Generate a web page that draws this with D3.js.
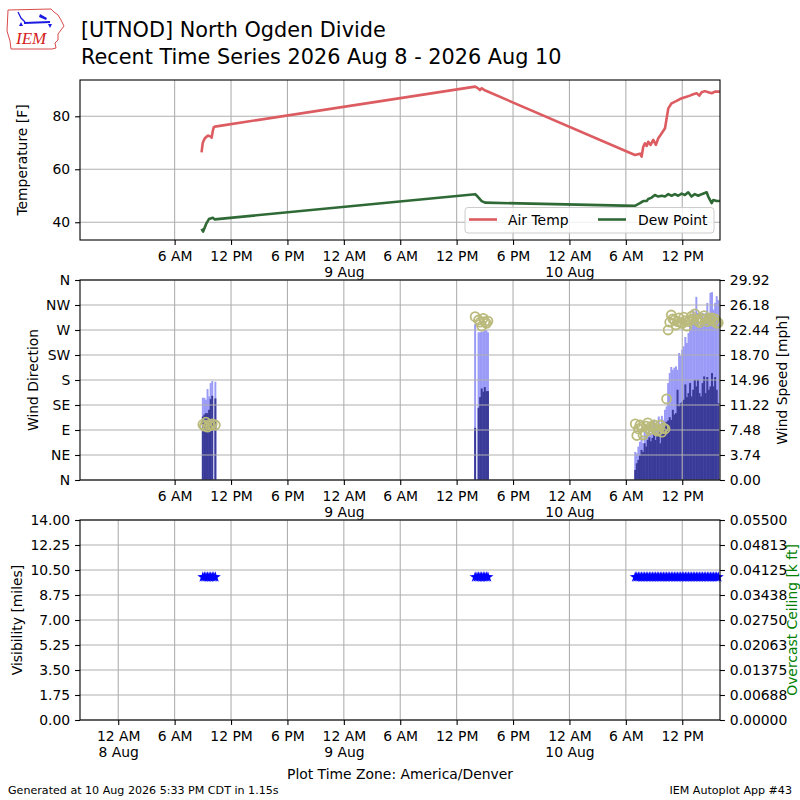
<!DOCTYPE html>
<html>
<head>
<meta charset="utf-8">
<script src="https://cdn.jsdelivr.net/npm/d3@7"></script>
<style>
body { margin: 0; background: #fff; }
svg { font-family: "DejaVu Sans", sans-serif; }
</style>
</head>
<body>
<div id="chart"></div>
<script>
// observations, local time (America/Denver), "MM-DD HH:MM"
const tempTimes = [
  "08-08 08:52","08-08 08:59","08-08 09:06","08-08 09:13","08-08 09:24","08-08 09:34","08-08 09:45","08-08 09:52","08-08 09:56","08-08 10:05","08-08 10:10","08-08 10:17",
  "08-09 13:58","08-09 14:10","08-09 14:20","08-09 14:29","08-09 14:40","08-09 14:50","08-09 14:56",
  "08-10 06:58","08-10 07:30","08-10 07:41","08-10 07:51","08-10 08:02","08-10 08:13","08-10 08:23","08-10 08:38","08-10 08:55","08-10 09:12","08-10 09:27","08-10 09:49","08-10 10:10","08-10 10:24","08-10 10:31","08-10 10:52","08-10 11:24","08-10 11:45","08-10 12:07","08-10 12:28","08-10 12:49","08-10 13:10","08-10 13:32","08-10 13:49","08-10 14:04","08-10 14:25","08-10 14:46","08-10 15:08","08-10 15:29","08-10 16:00"
];
const tempValues = [
  66.4,69.8,70.9,71.7,72.3,72.7,72.5,72.4,71.9,74.8,75.9,76.1,
  91.2,90.8,90.4,89.9,90.6,90.2,89.9,
  65.4,65.9,64.8,68.5,69.8,68.8,70.4,69.2,71.1,69.2,71.7,73.6,75.5,80.5,83.0,84.9,85.8,86.5,87.0,87.4,87.8,88.3,88.7,87.8,89.1,89.5,89.1,88.7,89.3,89.3
];

const dewTimes = [
  "08-08 08:52","08-08 09:02","08-08 09:23","08-08 09:39","08-08 10:04","08-08 10:15",
  "08-09 13:58","08-09 14:14","08-09 14:40","08-09 15:01",
  "08-10 06:58","08-10 07:30","08-10 07:51","08-10 08:13","08-10 08:23","08-10 08:45","08-10 09:05","08-10 09:27","08-10 09:49","08-10 10:10","08-10 10:31","08-10 10:52","08-10 11:13","08-10 11:34","08-10 11:56","08-10 12:17","08-10 12:38","08-10 12:59","08-10 13:20","08-10 13:42","08-10 14:04","08-10 14:36","08-10 14:46","08-10 15:08","08-10 15:18","08-10 15:40","08-10 16:00"
];
const dewValues = [
  37.5,36.5,39.6,41.2,41.7,41.1,
  50.6,49.7,48.0,47.4,
  46.2,47.2,48.0,48.0,48.8,49.3,50.3,49.7,50.0,49.7,50.6,50.0,50.6,50.0,50.8,50.3,51.3,49.7,50.6,50.0,50.6,51.3,49.7,47.2,48.4,48.0,48.0
];

const windTimes = [
  "08-08 09:00","08-08 09:10","08-08 09:20","08-08 09:30","08-08 09:40","08-08 09:50","08-08 10:00","08-08 10:10","08-08 10:20",
  "08-09 13:58","08-09 14:10","08-09 14:20","08-09 14:30","08-09 14:40","08-09 14:50","08-09 15:00","08-09 15:10","08-09 15:20",
  "08-10 07:00","08-10 07:10","08-10 07:20","08-10 07:30","08-10 07:40","08-10 07:50",
  "08-10 08:00","08-10 08:10","08-10 08:20","08-10 08:30","08-10 08:40","08-10 08:50",
  "08-10 09:00","08-10 09:10","08-10 09:20","08-10 09:30","08-10 09:40","08-10 09:50",
  "08-10 10:00","08-10 10:10","08-10 10:20","08-10 10:30","08-10 10:40","08-10 10:50",
  "08-10 11:00","08-10 11:10","08-10 11:20","08-10 11:30","08-10 11:40","08-10 11:50",
  "08-10 12:00","08-10 12:10","08-10 12:20","08-10 12:30","08-10 12:40","08-10 12:50",
  "08-10 13:00","08-10 13:10","08-10 13:20","08-10 13:30","08-10 13:40","08-10 13:50",
  "08-10 14:00","08-10 14:10","08-10 14:20","08-10 14:30","08-10 14:40","08-10 14:50",
  "08-10 15:00","08-10 15:10","08-10 15:20","08-10 15:30","08-10 15:40","08-10 15:50"
];
const windSpeed = [
  9.5,9.8,10.0,10.0,10.5,12.1,12.6,null,12.2,
  7.8,null,10.8,12.4,13.7,13.2,13.9,13.3,13.3,
  1.5,2.5,3.0,3.7,4.5,4.2,5.5,5.0,6.0,6.4,5.8,6.3,7.5,6.0,6.6,7.2,5.5,7.0,
  7.8,8.2,8.7,8.9,9.4,9.0,10.5,9.8,10.0,13.5,11.0,11.5,11.7,12.0,14.3,12.4,13.0,14.5,
  12.5,13.5,15.0,14.0,15.0,13.0,12.5,14.5,15.5,13.0,15.4,13.5,14.0,16.0,14.0,15.4,13.5,11.5
];
const windGust = [
  12.3,12.3,12.0,13.6,12.5,14.5,14.8,null,14.7,
  23.3,null,22.1,22.1,22.2,22.2,22.4,22.4,22.1,
  4.2,4.0,5.0,5.7,6.5,5.5,7.5,6.8,7.2,8.2,7.0,7.8,9.0,8.0,7.5,9.5,8.0,9.6,
  9.0,10.5,11.0,14.5,16.0,16.9,16.5,16.8,17.0,16.5,19.0,18.6,19.5,20.0,21.4,20.5,22.0,23.5,
  24.0,25.4,24.5,27.4,25.0,22.9,24.5,25.0,24.0,25.0,26.5,24.5,28.0,28.1,25.5,26.5,27.5,26.9
];
const windDir = [
  100,97,104,95,100,98,101,null,99,
  294,null,288,284,277,291,285,282,286,
  101,80,92,99,95,81,86,97,103,90,96,95,99,92,88,90,99,86,
  94,92,146,270,284,297,290,288,279,285,292,283,282,293,287,277,285,288,
  295,290,299,288,286,283,291,289,296,290,285,291,288,292,286,290,282,283
];
const visValues = [
  10,10,10,10,10,10,10,10,10,
  10,10,10,10,10,10,10,10,10,
  10,10,10,10,10,10,10,10,10,10,10,10,10,10,10,10,10,10,
  10,10,10,10,10,10,10,10,10,10,10,10,10,10,10,10,10,10,
  10,10,10,10,10,10,10,10,10,10,10,10,10,10,10,10,10,10
];

// tick labels
const tempTicks = [40, 60, 80];
const dirTicks = [0, 45, 90, 135, 180, 225, 270, 315, 360];
const dirLabels = ["N", "NE", "E", "SE", "S", "SW", "W", "NW", "N"];
const speedTicks = [0, 3.74, 7.48, 11.22, 14.96, 18.70, 22.44, 26.18, 29.92];
const visTicks = [0, 1.75, 3.5, 5.25, 7, 8.75, 10.5, 12.25, 14];
const ceilLabels = ["0.00000", "0.00688", "0.01375", "0.02063", "0.02750", "0.03438", "0.04125", "0.04813", "0.05500"];

const parseT = s => d3.utcParse("%Y-%m-%d %H:%M")("2026-" + s);

const W = 800, H = 800;
const X0 = 80, X1 = 720;
const FS = 13.9;

const svg = d3.select("#chart").append("svg")
    .attr("width", W)
    .attr("height", H);
svg.append("rect").attr("width", W).attr("height", H).attr("fill", "#fff");

const x = d3.scaleUtc()
    .domain([parseT("08-07 19:56"), parseT("08-10 16:01")])
    .range([X0, X1]);

const allTicks = d3.utcHour.every(6).range(x.domain()[0], x.domain()[1]);
const upperTicks = allTicks.filter(d => d >= parseT("08-08 06:00"));

function hourLabel(d) {
    let h = d.getUTCHours();
    if (h === 0) return "12 AM";
    if (h === 12) return "12 PM";
    return h < 12 ? h + " AM" : (h - 12) + " PM";
}

function drawGrid(g, top, bottom, yvals) {
    let grid = g.append("g").attr("stroke", "#b0b0b0").attr("stroke-width", 1.1);
    grid.selectAll("line.v").data(upperTicksFor(g)).enter().append("line")
        .attr("x1", d => x(d)).attr("x2", d => x(d))
        .attr("y1", top).attr("y2", bottom);
    grid.selectAll("line.h").data(yvals).enter().append("line")
        .attr("x1", X0).attr("x2", X1)
        .attr("y1", d => d).attr("y2", d => d);
}
function upperTicksFor(g) { return g.attr("data-ticks") === "all" ? allTicks : upperTicks; }

function timeAxis(g, yPos, ticks) {
    let ax = g.append("g")
        .attr("transform", `translate(0,${yPos})`)
        .call(d3.axisBottom(x).tickValues(ticks).tickSize(4.9).tickPadding(4.9).tickFormat(""));
    ax.select(".domain").remove();
    ax.selectAll(".tick line").attr("stroke", "#000").attr("stroke-width", 1.1);
    ax.selectAll(".tick").each(function(d) {
        let t = d3.select(this).append("text")
            .attr("y", 20.5)
            .attr("text-anchor", "middle")
            .attr("font-size", FS)
            .attr("fill", "#000")
            .attr("font-family", "DejaVu Sans");
        t.append("tspan").attr("x", 0).text(hourLabel(d));
        if (d.getUTCHours() === 0) {
            t.append("tspan").attr("x", 0).attr("dy", 16.3).text(d.getUTCDate() + " Aug");
        }
    });
}

function valueAxis(g, scale, xPos, side, ticks, fmt) {
    let axisFn = side === "left" ? d3.axisLeft(scale) : d3.axisRight(scale);
    let ax = g.append("g")
        .attr("transform", `translate(${xPos},0)`)
        .call(axisFn.tickValues(ticks).tickSize(4.9).tickPadding(4.9).tickFormat(fmt));
    ax.select(".domain").remove();
    ax.selectAll(".tick line").attr("stroke", "#000").attr("stroke-width", 1.1);
    ax.selectAll(".tick text")
        .attr("font-size", FS)
        .attr("fill", "#000")
        .attr("font-family", "DejaVu Sans");
}

function frame(g, top, bottom) {
    g.append("rect")
        .attr("x", X0).attr("y", top)
        .attr("width", X1 - X0).attr("height", bottom - top)
        .attr("fill", "none").attr("stroke", "#000").attr("stroke-width", 1.1);
}

function yLabel(g, text, xc, yc, color) {
    g.append("text")
        .attr("transform", `translate(${xc},${yc}) rotate(-90)`)
        .attr("text-anchor", "middle")
        .attr("dy", "0.35em")
        .attr("font-size", FS)
        .attr("fill", color || "#000")
        .text(text);
}

// ---------- title & logo ----------
const logo = svg.append("g");
logo.append("path")
    .attr("d", "M8,10 L51,9 L54,12 L58,15 L61,20 L64,26 L61,30 L58,34 L58,40 L55,43 L56,48 L52,49 L11,49 L10,41 L7,31 Z")
    .attr("fill", "none").attr("stroke", "#d84a4a").attr("stroke-width", 1);
logo.append("text")
    .attr("x", 16).attr("y", 44)
    .attr("font-family", "Liberation Serif").attr("font-style", "italic")
    .attr("font-size", 17).attr("fill", "#d62020")
    .text("IEM");
logo.append("path").attr("d", "M24,23 L50,22").attr("stroke", "#1a1ae0").attr("stroke-width", 2.2).attr("fill", "none");
logo.append("path").attr("d", "M40,14 L47,18 L46,20 L39,17 Z").attr("fill", "#1a1ae0");
logo.append("path").attr("d", "M18,12 L21,18 L25,22").attr("stroke", "#1a1ae0").attr("stroke-width", 1.3).attr("fill", "none");
logo.append("path").attr("d", "M19,26 L21,22 L23,26 Z M48,24 L50,28 L52,24 Z").attr("fill", "#1a1ae0");

svg.append("text").attr("x", 81).attr("y", 37).attr("font-size", 20.8).attr("fill", "#000")
    .text("[UTNOD] North Ogden Divide");
svg.append("text").attr("x", 81).attr("y", 63.5).attr("font-size", 20.8).attr("fill", "#000")
    .text("Recent Time Series 2026 Aug 8 - 2026 Aug 10");

// ---------- temperature panel ----------
const yT = d3.scaleLinear().domain([33.3, 93.7]).range([240, 80]);
const gT = svg.append("g");
drawGrid(gT, 80, 240, tempTicks.map(yT));

const tempData = tempTimes.map((t, i) => ({t: parseT(t), v: tempValues[i]}));
const dewData = dewTimes.map((t, i) => ({t: parseT(t), v: dewValues[i]}));
const line = d3.line().x(d => x(d.t)).y(d => yT(d.v));

gT.append("path").datum(tempData).attr("d", line)
    .attr("fill", "none").attr("stroke", "#dc5c61").attr("stroke-width", 2.6).attr("stroke-linejoin", "round");
gT.append("path").datum(dewData).attr("d", line)
    .attr("fill", "none").attr("stroke", "#2f6a36").attr("stroke-width", 2.6).attr("stroke-linejoin", "round");

frame(gT, 80, 240);
valueAxis(gT, yT, X0, "left", tempTicks, d3.format("d"));
timeAxis(gT, 240, upperTicks);
yLabel(gT, "Temperature [F]", 22, 160);

// legend
const leg = gT.append("g");
leg.append("rect").attr("x", 465).attr("y", 207.5).attr("width", 249).attr("height", 25.5).attr("rx", 3)
    .attr("fill", "#fff").attr("fill-opacity", 0.8).attr("stroke", "#cccccc").attr("stroke-width", 1);
leg.append("line").attr("x1", 469).attr("x2", 497).attr("y1", 219.5).attr("y2", 219.5)
    .attr("stroke", "#dc5c61").attr("stroke-width", 2.6);
leg.append("text").attr("x", 508).attr("y", 224.5).attr("font-size", FS).text("Air Temp");
leg.append("line").attr("x1", 598).attr("x2", 626).attr("y1", 219.5).attr("y2", 219.5)
    .attr("stroke", "#2f6a36").attr("stroke-width", 2.6);
leg.append("text").attr("x", 638).attr("y", 224.5).attr("font-size", FS).text("Dew Point");

// ---------- wind panel ----------
const yDir = d3.scaleLinear().domain([0, 360]).range([480, 280]);
const ySpd = d3.scaleLinear().domain([0, 29.92]).range([480, 280]);
const gW = svg.append("g");

const windData = windTimes.map((t, i) => ({
    t: parseT(t), s: windSpeed[i], g: windGust[i], d: windDir[i]
}));
// slight overlap so neighbouring bars read as one block
const barW = x(parseT("08-08 00:10")) - x(parseT("08-08 00:00")) + 0.4;

gW.selectAll("rect.gust").data(windData.filter(d => d.g !== null)).enter().append("rect")
    .attr("x", d => x(d.t) - barW / 2).attr("width", barW)
    .attr("y", d => ySpd(d.g)).attr("height", d => ySpd(0) - ySpd(d.g))
    .attr("fill", "#9a9af7");
gW.selectAll("rect.sknt").data(windData.filter(d => d.s !== null)).enter().append("rect")
    .attr("x", d => x(d.t) - barW / 2).attr("width", barW)
    .attr("y", d => ySpd(d.s)).attr("height", d => ySpd(0) - ySpd(d.s))
    .attr("fill", "#3a3a98");

drawGrid(gW, 280, 480, dirTicks.map(yDir));

gW.selectAll("circle").data(windData.filter(d => d.d !== null)).enter().append("circle")
    .attr("cx", d => x(d.t)).attr("cy", d => yDir(d.d)).attr("r", 4.5)
    .attr("fill", "none").attr("stroke", "#baba7c").attr("stroke-width", 1.8);

frame(gW, 280, 480);
valueAxis(gW, yDir, X0, "left", dirTicks, (d, i) => dirLabels[i]);
valueAxis(gW, ySpd, X1, "right", speedTicks, d3.format(".2f"));
timeAxis(gW, 480, upperTicks);
yLabel(gW, "Wind Direction", 33, 380);
yLabel(gW, "Wind Speed [mph]", 782, 380);

// ---------- visibility panel ----------
const yV = d3.scaleLinear().domain([0, 14]).range([720, 520]);
const gV = svg.append("g").attr("data-ticks", "all");
drawGrid(gV, 520, 720, visTicks.map(yV));

const star = d3.symbol().type(d3.symbolStar).size(38);
gV.selectAll("path.star").data(windTimes.map((t, i) => ({t: parseT(t), v: visValues[i]}))).enter()
    .append("path")
    .attr("d", star)
    .attr("transform", d => `translate(${x(d.t)},${yV(d.v)})`)
    .attr("fill", "#0000ff");

frame(gV, 520, 720);
valueAxis(gV, yV, X0, "left", visTicks, d3.format(".2f"));
valueAxis(gV, yV, X1, "right", visTicks, (d, i) => ceilLabels[i]);
timeAxis(gV, 720, allTicks);
yLabel(gV, "Visibility [miles]", 17, 620);
yLabel(gV, "Overcast Ceiling [k ft]", 792, 620, "#008000");

// ---------- footer ----------
svg.append("text").attr("x", 400).attr("y", 779).attr("text-anchor", "middle").attr("font-size", FS)
    .text("Plot Time Zone: America/Denver");
svg.append("text").attr("x", 8).attr("y", 794).attr("font-size", 11.1)
    .text("Generated at 10 Aug 2026 5:33 PM CDT in 1.15s");
svg.append("text").attr("x", 792).attr("y", 794).attr("text-anchor", "end").attr("font-size", 11.1)
    .text("IEM Autoplot App #43");
</script>
</body>
</html>
